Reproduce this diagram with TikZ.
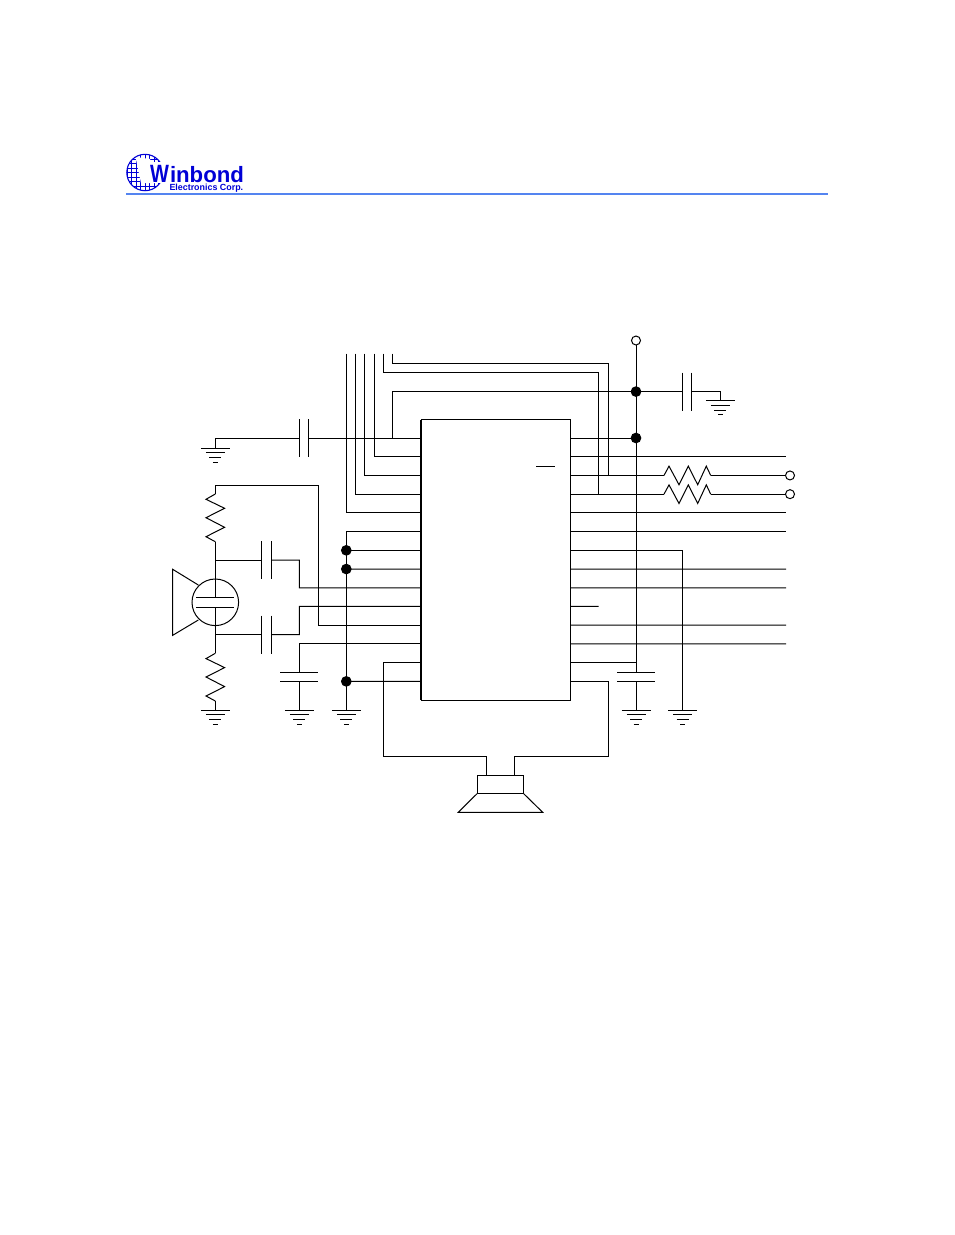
\documentclass[tikz,border=0pt]{standalone}
\usepackage{fontspec}
\setmainfont{Liberation Sans}
\usepackage{tikz}
\usetikzlibrary{calc}
\definecolor{wbblue}{RGB}{0,0,214}
\definecolor{wbrule}{RGB}{84,132,240}
\tikzstyle{chipbox}=[draw,fill=white,minimum width=149.5pt,minimum height=280.5pt,inner sep=0pt,outer sep=0pt]
\tikzstyle{dot}=[draw,fill=black,circle,minimum size=9.6pt,inner sep=0pt,outer sep=0pt]
\tikzstyle{term}=[draw,fill=white,circle,minimum size=9pt,inner sep=0pt,outer sep=0pt]
\tikzset{
  gnd/.pic={
    \draw (-14.5,0) -- (14.5,0);
    \draw (-9.5,4.6) -- (9.5,4.6);
    \draw (-6,9.3) -- (6,9.3);
    \draw (-2.5,14) -- (2.5,14);
  },
  capv/.pic={
    \draw (0,-19) -- (0,19);
    \draw (9.5,-19) -- (9.5,19);
  },
  caph/.pic={
    \draw (-19,0) -- (19,0);
    \draw (-19,9.3) -- (19,9.3);
  },
  resh/.pic={
    \draw (0,0) -- (5,-9.3) -- (15,9.3) -- (24.3,-9.3) -- (33.7,9.3) -- (42.3,-9.3) -- (46.7,0);
  },
  resv/.pic={
    \draw (0,0) -- (-9.3,5.3) -- (9.3,14.3) -- (-9.3,23.7) -- (9.3,33.3) -- (-9.3,42.7) -- (0,47.7);
  },
}
\begin{document}
\begin{tikzpicture}[x=1pt,y=-1pt,line width=1pt,line join=miter]
\useasboundingbox (0,0) rectangle (954,1235);

% logo
\begin{scope}
\clip (145,172.5) circle (18.2);
\foreach \i in {0,...,8}
  \draw[wbblue,line width=0.6pt] ({127+4.5*\i},154) -- ({127+4.5*\i},191);
\foreach \i in {0,...,8}
  \draw[wbblue,line width=0.6pt] (127,{154.5+4.5*\i}) -- (164,{154.5+4.5*\i});
\fill[white] (135.5,157) -- (150,159) -- (156,183) -- (141,183) -- cycle;
\end{scope}
\draw[wbblue,line width=1.1pt] (145,172.5) circle (18.2);
\fill[white] (149,162) rectangle (169,183);
\node[anchor=base west,inner sep=0pt,text=wbblue,font=\bfseries\fontsize{25}{25}\selectfont] (logow) at (149.5,182) {\scalebox{0.8}[1]{W}};
\node[anchor=base west,inner sep=0pt,text=wbblue,font=\bfseries\fontsize{22.2}{22.2}\selectfont] (logotext) at (169.5,182) {inbond};
\node[anchor=base west,inner sep=0pt,text=wbblue,font=\bfseries\fontsize{8.9}{9}\selectfont] (logosub) at (169,190.5) {Electronics Corp.};
\draw[wbrule,line width=1.4pt] (126,193.8) -- (828,193.8);

% chip and pins
\node [chipbox] (chip) at (495.75,559.75) {};
\foreach \i in {1,...,14} {
  \coordinate (pl\i) at (421,{438+(\i-1)*18.72});
  \coordinate (pr\i) at (570.5,{438+(\i-1)*18.72});
}
\draw[line width=1.5pt] (chip.north west) -- (chip.south west);
\draw (536,466.3) -- (555,466.3);

% top bus
\draw (346.3,353.5) |- (pl5);
\draw (355.6,353.5) |- (pl4);
\draw (364.3,353.5) |- (pl3);
\draw (374.3,353.5) |- (pl2);
\coordinate (busa) at (392.7,353.5);
\coordinate (busb) at (383.3,353.5);
\coordinate (rinb) at (664,475.44);
\coordinate (rinc) at (664,494.16);
\draw (busa) -- (392.7,363.5) -- (608,363.5) -- (608,475.44);
\draw (busb) -- (383.3,372.7) -- (598.7,372.7) -- (598.7,494.16);

% supply
\node [term] (vcc) at (636,340.5) {};
\node [dot] (dota) at (636,391.6) {};
\node [dot] (dotb) at (636,438) {};
\coordinate (capr) at (636,672.3);
\draw (vcc) -- (capr);
\draw (392.7,438) |- (dota);
\draw (dota) -- (682.3,391.6);
\draw (pr1) -- (dotb);
\pic at (682.3,391.6) {capv};
\coordinate (gnda) at (720.3,400.7);
\draw (691.8,391.6) -| (gnda);
\pic at (gnda) {gnd};

% left ground and capacitor
\coordinate (gndb) at (215.3,448.3);
\draw (pl1) -- (308.8,438);
\draw (299.3,438) -| (gndb);
\pic at (gndb) {gnd};
\pic at (299.3,438) {capv};

% right side
\draw (pr2) -- (786,456.72);
\draw (pr3) -- (rinb);
\draw (pr4) -- (rinc);
\pic at (rinb) {resh};
\pic at (rinc) {resh};
\node [term] (terma) at (790,475.44) {};
\node [term] (termb) at (790,494.16) {};
\draw (710.7,475.44) -- (terma);
\draw (710.7,494.16) -- (termb);
\draw (pr5) -- (786,512.88);
\draw[line width=1.3pt] (pr6) -- (786,531.6);
\coordinate (gndc) at (682.7,710);
\draw (pr7) -| (gndc);
\pic at (gndc) {gnd};
\draw (pr8) -- (786,569.04);
\draw (pr9) -- (786,587.76);
\draw (pr10) -- (598.7,606.48);
\draw (pr11) -- (786,625.2);
\draw (pr12) -- (786,643.92);
\draw (pr13) -| (capr);
\pic at (capr) {caph};
\coordinate (gndd) at (636,710);
\draw (636,681.6) -- (gndd);
\pic at (gndd) {gnd};

% left side
\node [dot] (dotc) at (346.3,550.32) {};
\node [dot] (dotd) at (346.3,569.04) {};
\node [dot] (dote) at (346.3,681.36) {};
\coordinate (gnde) at (346.3,710);
\draw (pl6) -| (gnde);
\draw (pl7) -- (dotc);
\draw (pl8) -- (dotd);
\draw (pl14) -- (dote);
\pic at (gnde) {gnd};

% mic
\coordinate (mica) at (215.3,485.3);
\coordinate (micb) at (215.3,541.7);
\coordinate (micc) at (215.3,653.3);
\coordinate (gndf) at (215.3,710);
\draw (pl11) -| (318.3,485.3) -- (mica) -- (215.3,494);
\pic at (215.3,494) {resv};
\draw (micb) -- (215.3,597.7);
\draw (215.3,607) -- (micc);
\pic at (micc) {resv};
\draw (215.3,701) -- (gndf);
\pic at (gndf) {gnd};
\node [draw,circle,minimum size=46.6pt,inner sep=0pt,outer sep=0pt] (mic) at (215.3,602.3) {};
\draw (196,597.7) -- (234,597.7);
\draw (196,607) -- (234,607);
\draw (215.3,579) -- (215.3,597.7);
\draw (215.3,607) -- (215.3,625.6);
\draw (198.3,585) -- (172.7,569.3) -- (172.7,635.3) -- (198.3,620);

% coupling capacitors
\pic at (261.7,560) {capv};
\pic at (261.7,634.7) {capv};
\draw (215.3,560) -- (261.7,560);
\draw (271.2,560) -| (299.3,587.76) -- (pl9);
\draw (215.3,634.7) -- (261.7,634.7);
\draw (271.2,634.7) -| (299.3,606.48) -- (pl10);
\coordinate (gndg) at (299.3,710);
\draw (pl12) -| (299.3,672.3);
\pic at (299.3,672.3) {caph};
\draw (299.3,681.6) -- (gndg);
\pic at (gndg) {gnd};

% speaker
\coordinate (spka) at (486.7,775);
\coordinate (spkb) at (514.3,775);
\draw (pl13) -| (383.3,756.3) -| (spka);
\draw (pr14) -| (608,756.3) -| (spkb);
\draw (477,775) rectangle (523.7,793.7);
\draw (477,793.7) -- (458.3,812.3) -- (542.7,812.3) -- (523.7,793.7);
\end{tikzpicture}
\end{document}
